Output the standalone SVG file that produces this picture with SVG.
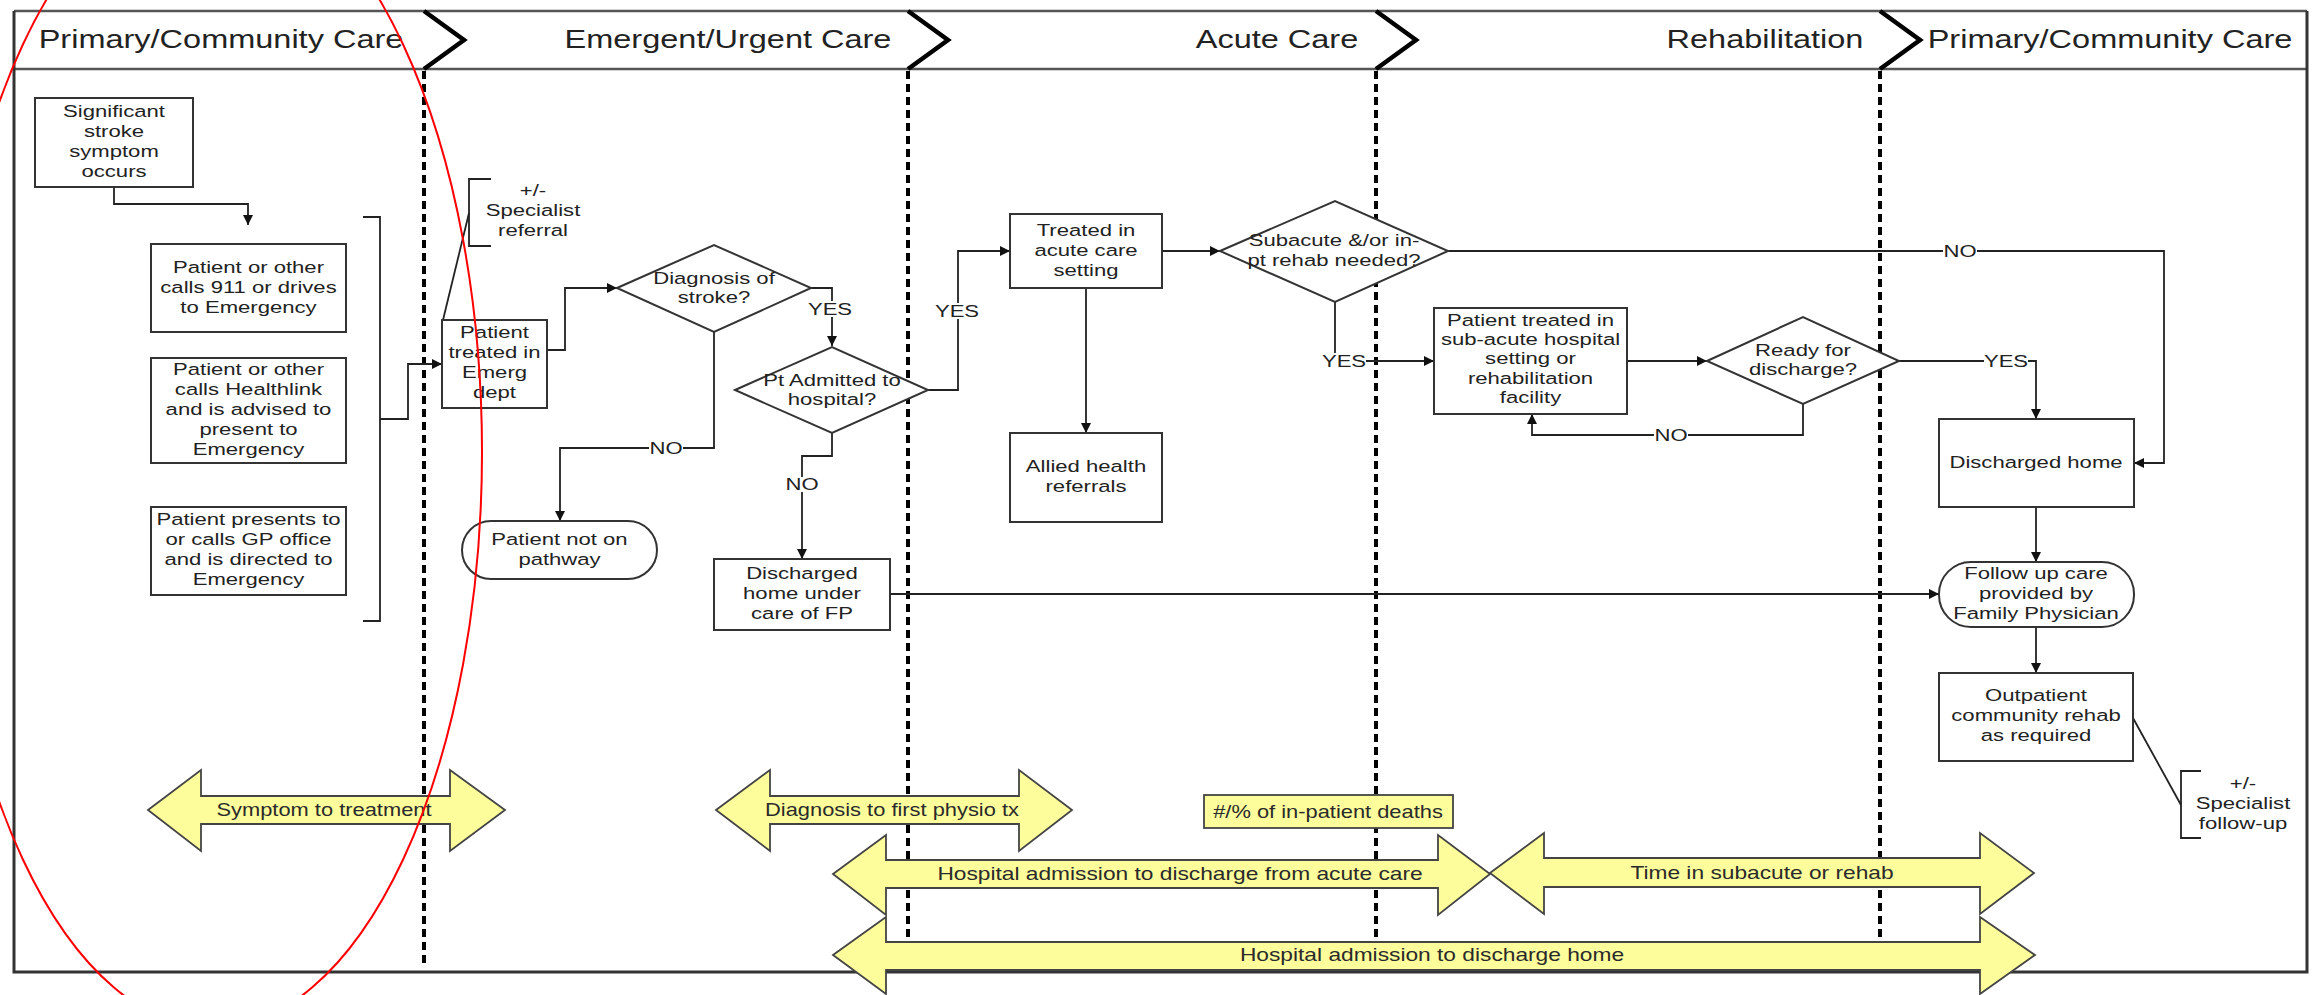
<svg xmlns="http://www.w3.org/2000/svg" width="2318" height="995" viewBox="0 0 2318 995">
  <defs>
    <marker id="ah" viewBox="0 0 10 10" refX="10" refY="5" markerWidth="12" markerHeight="10" markerUnits="userSpaceOnUse" orient="auto">
      <path d="M0,0 L10,5 L0,10 z" fill="#111"/>
    </marker>
    <style>
      text { font-family: "Liberation Sans", Arial, sans-serif; fill: #222; }
      .hdr { font-size: 25px; text-anchor: middle; }
      .t { font-size: 17px; text-anchor: middle; }
      .yt { font-size: 17.5px; text-anchor: middle; fill: #2a2a2a; }
      .lbl { font-size: 17px; text-anchor: middle; }
      .lbg { fill: #fff; stroke: none; }
      .frame { fill: none; stroke: #333; stroke-width: 3; }
      .hline { fill: none; stroke: #555; stroke-width: 2.5; }
      .chev { fill: none; stroke: #000; stroke-width: 4.5; stroke-linejoin: miter; }
      .div { fill: none; stroke: #000; stroke-width: 4; stroke-dasharray: 8 5; }
      .box { fill: #fff; stroke: #333; stroke-width: 2; }
      .cn { fill: none; stroke: #222; stroke-width: 1.8; }
      .cna { fill: none; stroke: #222; stroke-width: 1.8; marker-end: url(#ah); }
      .ya { fill: #fdfd9c; stroke: #444; stroke-width: 1.8; }
      .ring { fill: none; stroke: #f00; stroke-width: 2; }
    </style>
  </defs>
  <rect width="2318" height="995" fill="#fff"/>

  <!-- outer frame and swimlane header -->
  <g id="frame">
    <line class="hline" x1="14" y1="11" x2="2307" y2="11"/>
    <line class="hline" x1="14" y1="69" x2="2307" y2="69"/>
    <path class="frame" d="M14,11 V972 H2307 V11"/>
    <path class="chev" d="M424,11 L464,40 L424,69"/>
    <path class="chev" d="M908,11 L948,40 L908,69"/>
    <path class="chev" d="M1376,11 L1416,40 L1376,69"/>
    <path class="chev" d="M1880,11 L1920,40 L1880,69"/>
    <text class="hdr" transform="translate(221 0) scale(1.3 1)" y="48">Primary/Community Care</text>
    <text class="hdr" transform="translate(728 0) scale(1.3 1)" y="48">Emergent/Urgent Care</text>
    <text class="hdr" transform="translate(1277 0) scale(1.3 1)" y="48">Acute Care</text>
    <text class="hdr" transform="translate(1765 0) scale(1.3 1)" y="48">Rehabilitation</text>
    <text class="hdr" transform="translate(2110 0) scale(1.3 1)" y="48">Primary/Community Care</text>
  </g>

  <!-- phase dividers -->
  <g id="dividers">
    <line class="div" x1="424" y1="71" x2="424" y2="968"/>
    <line class="div" x1="908" y1="71" x2="908" y2="968"/>
    <line class="div" x1="1376" y1="71" x2="1376" y2="968"/>
    <line class="div" x1="1880" y1="71" x2="1880" y2="968"/>
  </g>

  <!-- connectors -->
  <g id="connectors">
    <path class="cna" d="M114,187 V204 H248 V225"/>
    <path class="cn" d="M363,217 H380 V621 H363"/>
    <path class="cna" d="M380,419 H408 V364 H442"/>
    <path class="cn" d="M491,179 H469 V246 H491"/>
    <path class="cn" d="M469,213 L443,320"/>
    <path class="cna" d="M547,350 H565 V288 H617"/>
    <path class="cna" d="M811,288 H832 V346"/>
    <path class="cna" d="M714,332 V448 H560 V521"/>
    <path class="cna" d="M928,390 H958 V251 H1010"/>
    <path class="cna" d="M832,433 V456 H802 V559"/>
    <path class="cna" d="M890,594 H1939"/>
    <path class="cna" d="M1086,288 V433"/>
    <path class="cna" d="M1162,251 H1220"/>
    <path class="cna" d="M1335,302 V361 H1434"/>
    <path class="cna" d="M1448,251 H2164 V463 H2134"/>
    <path class="cna" d="M1627,361 H1707"/>
    <path class="cna" d="M1803,404 V435 H1532 V414"/>
    <path class="cna" d="M1899,361 H2036 V419"/>
    <path class="cna" d="M2036,507 V562"/>
    <path class="cna" d="M2036,627 V673"/>
    <path class="cn" d="M2133,718 L2181,805"/>
    <path class="cn" d="M2201,771 H2181 V838 H2201"/>
    <!-- branch labels sit on a white patch that breaks the line -->
    <rect class="lbg" x="808" y="301" width="44" height="16"/>
    <text class="lbl" transform="translate(830 0) scale(1.3 1)" y="315">YES</text>
    <rect class="lbg" x="649" y="441" width="34" height="15"/>
    <text class="lbl" transform="translate(666 0) scale(1.3 1)" y="454">NO</text>
    <rect class="lbg" x="785" y="477" width="34" height="15"/>
    <text class="lbl" transform="translate(802 0) scale(1.3 1)" y="490">NO</text>
    <rect class="lbg" x="935" y="303" width="44" height="16"/>
    <text class="lbl" transform="translate(957 0) scale(1.3 1)" y="317">YES</text>
    <rect class="lbg" x="1322" y="353" width="44" height="16"/>
    <text class="lbl" transform="translate(1344 0) scale(1.3 1)" y="367">YES</text>
    <rect class="lbg" x="1943" y="243" width="34" height="16"/>
    <text class="lbl" transform="translate(1960 0) scale(1.3 1)" y="257">NO</text>
    <rect class="lbg" x="1654" y="427" width="34" height="16"/>
    <text class="lbl" transform="translate(1671 0) scale(1.3 1)" y="441">NO</text>
    <rect class="lbg" x="1984" y="353" width="44" height="16"/>
    <text class="lbl" transform="translate(2006 0) scale(1.3 1)" y="367">YES</text>
  </g>

  <!-- nodes -->
  <g id="symptom">
    <rect class="box" x="35" y="98" width="158" height="89"/>
    <text class="t" transform="translate(114 0) scale(1.3 1)"><tspan x="0" y="117">Significant</tspan><tspan x="0" y="137">stroke</tspan><tspan x="0" y="157">symptom</tspan><tspan x="0" y="177">occurs</tspan></text>
  </g>
  <g id="calls911">
    <rect class="box" x="151" y="244" width="195" height="88"/>
    <text class="t" transform="translate(248.5 0) scale(1.3 1)"><tspan x="0" y="273">Patient or other</tspan><tspan x="0" y="293">calls 911 or drives</tspan><tspan x="0" y="313">to Emergency</tspan></text>
  </g>
  <g id="healthlink">
    <rect class="box" x="151" y="358" width="195" height="105"/>
    <text class="t" transform="translate(248.5 0) scale(1.3 1)"><tspan x="0" y="375">Patient or other</tspan><tspan x="0" y="395">calls Healthlink</tspan><tspan x="0" y="415">and is advised to</tspan><tspan x="0" y="435">present to</tspan><tspan x="0" y="455">Emergency</tspan></text>
  </g>
  <g id="gp-office">
    <rect class="box" x="151" y="507" width="195" height="88"/>
    <text class="t" transform="translate(248.5 0) scale(1.3 1)"><tspan x="0" y="525">Patient presents to</tspan><tspan x="0" y="545">or calls GP office</tspan><tspan x="0" y="565">and is directed to</tspan><tspan x="0" y="585">Emergency</tspan></text>
  </g>
  <g id="emerg-dept">
    <rect class="box" x="442" y="320" width="105" height="88"/>
    <text class="t" transform="translate(494.5 0) scale(1.3 1)"><tspan x="0" y="338">Patient</tspan><tspan x="0" y="358">treated in</tspan><tspan x="0" y="378">Emerg</tspan><tspan x="0" y="398">dept</tspan></text>
  </g>
  <g id="specialist-referral">
    <text class="t" transform="translate(533 0) scale(1.3 1)"><tspan x="0" y="196">+/-</tspan><tspan x="0" y="216">Specialist</tspan><tspan x="0" y="236">referral</tspan></text>
  </g>
  <g id="diagnosis">
    <polygon class="box" points="617,288 714,245 811,288 714,332"/>
    <text class="t" transform="translate(714 0) scale(1.3 1)"><tspan x="0" y="284">Diagnosis of</tspan><tspan x="0" y="303">stroke?</tspan></text>
  </g>
  <g id="not-on-pathway">
    <rect class="box" x="462" y="521" width="195" height="58" rx="29" ry="29"/>
    <text class="t" transform="translate(559.5 0) scale(1.3 1)"><tspan x="0" y="545">Patient not on</tspan><tspan x="0" y="565">pathway</tspan></text>
  </g>
  <g id="admitted">
    <polygon class="box" points="735,390 832,347 928,390 832,433"/>
    <text class="t" transform="translate(832 0) scale(1.3 1)"><tspan x="0" y="386">Pt Admitted to</tspan><tspan x="0" y="405">hospital?</tspan></text>
  </g>
  <g id="discharged-fp">
    <rect class="box" x="714" y="559" width="176" height="71"/>
    <text class="t" transform="translate(802 0) scale(1.3 1)"><tspan x="0" y="579">Discharged</tspan><tspan x="0" y="599">home under</tspan><tspan x="0" y="619">care of FP</tspan></text>
  </g>
  <g id="acute-care">
    <rect class="box" x="1010" y="214" width="152" height="74"/>
    <text class="t" transform="translate(1086 0) scale(1.3 1)"><tspan x="0" y="236">Treated in</tspan><tspan x="0" y="256">acute care</tspan><tspan x="0" y="276">setting</tspan></text>
  </g>
  <g id="allied-health">
    <rect class="box" x="1010" y="433" width="152" height="89"/>
    <text class="t" transform="translate(1086 0) scale(1.3 1)"><tspan x="0" y="472">Allied health</tspan><tspan x="0" y="492">referrals</tspan></text>
  </g>
  <g id="rehab-needed">
    <polygon class="box" points="1220,251 1335,201 1448,251 1335,302"/>
    <text class="t" transform="translate(1334 0) scale(1.3 1)"><tspan x="0" y="246">Subacute &amp;/or in-</tspan><tspan x="0" y="266">pt rehab needed?</tspan></text>
  </g>
  <g id="subacute">
    <rect class="box" x="1434" y="308" width="193" height="106"/>
    <text class="t" transform="translate(1530.5 0) scale(1.3 1)"><tspan x="0" y="326">Patient treated in</tspan><tspan x="0" y="345">sub-acute hospital</tspan><tspan x="0" y="364">setting or</tspan><tspan x="0" y="384">rehabilitation</tspan><tspan x="0" y="403">facility</tspan></text>
  </g>
  <g id="ready-discharge">
    <polygon class="box" points="1707,361 1803,317 1899,361 1803,404"/>
    <text class="t" transform="translate(1803 0) scale(1.3 1)"><tspan x="0" y="356">Ready for</tspan><tspan x="0" y="375">discharge?</tspan></text>
  </g>
  <g id="discharged-home">
    <rect class="box" x="1939" y="419" width="195" height="88"/>
    <text class="t" transform="translate(2036 0) scale(1.3 1)" y="468">Discharged home</text>
  </g>
  <g id="follow-up">
    <rect class="box" x="1939" y="562" width="195" height="65" rx="32" ry="32"/>
    <text class="t" transform="translate(2036 0) scale(1.3 1)"><tspan x="0" y="579">Follow up care</tspan><tspan x="0" y="599">provided by</tspan><tspan x="0" y="619">Family Physician</tspan></text>
  </g>
  <g id="outpatient">
    <rect class="box" x="1939" y="673" width="194" height="88"/>
    <text class="t" transform="translate(2036 0) scale(1.3 1)"><tspan x="0" y="701">Outpatient</tspan><tspan x="0" y="721">community rehab</tspan><tspan x="0" y="741">as required</tspan></text>
  </g>
  <g id="specialist-follow-up">
    <text class="t" transform="translate(2243 0) scale(1.3 1)"><tspan x="0" y="789">+/-</tspan><tspan x="0" y="809">Specialist</tspan><tspan x="0" y="829">follow-up</tspan></text>
  </g>

  <!-- time-interval indicators -->
  <g id="symptom-to-treatment">
    <polygon class="ya" points="148,810 201,770 201,796 450,796 450,770 505,810 450,851 450,824 201,824 201,851"/>
    <text class="yt" transform="translate(324 0) scale(1.25 1)" y="816">Symptom to treatment</text>
  </g>
  <g id="diagnosis-to-physio">
    <polygon class="ya" points="716,810 770,770 770,796 1019,796 1019,770 1072,810 1019,851 1019,824 770,824 770,851"/>
    <text class="yt" transform="translate(892 0) scale(1.25 1)" y="816">Diagnosis to first physio tx</text>
  </g>
  <g id="inpatient-deaths">
    <rect class="ya" x="1204" y="795" width="249" height="33"/>
    <text class="yt" transform="translate(1328 0) scale(1.25 1)" y="818">#/% of in-patient deaths</text>
  </g>
  <g id="admission-to-acute-discharge">
    <polygon class="ya" points="833,874 886,835 886,860 1438,860 1438,835 1490,874 1438,915 1438,888 886,888 886,915"/>
    <text class="yt" transform="translate(1180 0) scale(1.3 1)" y="880">Hospital admission to discharge from acute care</text>
  </g>
  <g id="subacute-time">
    <polygon class="ya" points="1490,873 1544,833 1544,858 1980,858 1980,833 2034,873 1980,914 1980,887 1544,887 1544,914"/>
    <text class="yt" transform="translate(1762 0) scale(1.3 1)" y="879">Time in subacute or rehab</text>
  </g>
  <g id="admission-to-home">
    <polygon class="ya" points="833,955 886,917 886,942 1980,942 1980,917 2035,955 1980,994 1980,970 886,970 886,994"/>
    <text class="yt" transform="translate(1432 0) scale(1.3 1)" y="961">Hospital admission to discharge home</text>
  </g>

  <!-- highlight ring over the first phase -->
  <ellipse class="ring" cx="213" cy="452" rx="269" ry="576"/>
</svg>
